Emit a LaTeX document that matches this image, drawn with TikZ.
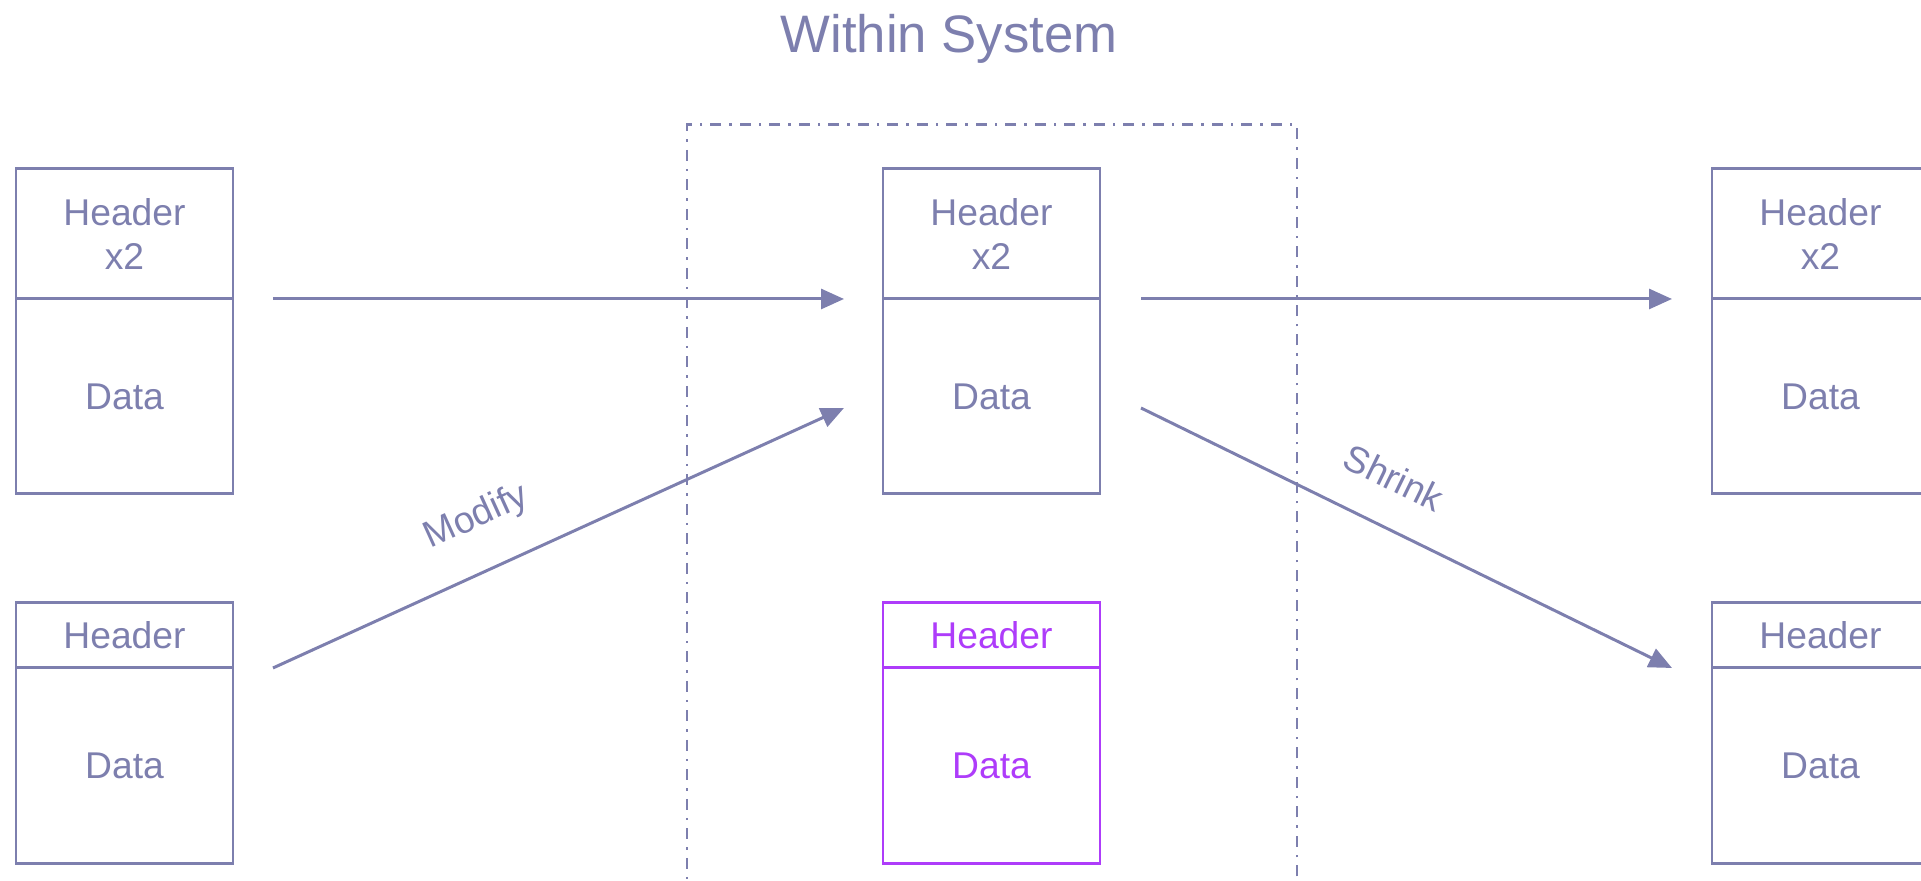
\documentclass[tikz,border=0pt]{standalone}
\usepackage{fontspec}
\setmainfont{Liberation Sans}
\usetikzlibrary{positioning,calc,arrows.meta}
\definecolor{sysblue}{RGB}{125,127,174}
\definecolor{syspurple}{RGB}{174,60,250}
\tikzset{
>={Triangle[length=2.3mm,width=2.0mm]},
  hdrbox/.style={
    rectangle,
    draw=sysblue, line width=0.85pt,
    text=sysblue,
    font=\fontsize{10.6}{12.3}\selectfont,
    align=center,
    inner sep=0pt, outer sep=0pt,
    minimum width=2.17cm,
    minimum height=1.30cm},
  smallhdr/.style={
    hdrbox,
    minimum height=0.65cm},
  databox/.style={
    hdrbox,
    minimum height=1.95cm},
  newbox/.style={draw=syspurple, text=syspurple},
  framebox/.style={
    rectangle,
    draw=sysblue, line width=0.85pt,
    dash pattern=on 0.11cm off 0.08cm on 0.025cm off 0.08cm,
    minimum width=6.10cm,
    minimum height=8.2cm},
  flow/.style={draw=sysblue, line width=0.85pt, ->},
  flowlabel/.style={sloped, above=0.22cm, text=sysblue,
    font=\fontsize{10.6}{12.3}\selectfont},
}
\begin{document}
\begin{tikzpicture}
\path[use as bounding box, clip] (0,0) rectangle (19.21,8.81);

\node[text=sysblue, font=\fontsize{15}{17}\selectfont, anchor=base] (title) at (9.49,8.28) {Within System};

\node[framebox] (system) at (9.92,3.46) {};

% before
\node[hdrbox] (hdrA) at (1.245,6.47) {Header\\x2};
\node[databox, below=0pt of hdrA] (dataA) {Data};
\node[smallhdr, below=1.09cm of dataA] (hdrD) {Header};
\node[databox, below=0pt of hdrD, minimum height=1.96cm] (dataD) {Data};

% within system
\node[hdrbox, right=6.50cm of hdrA] (hdrB) {Header\\x2};
\node[databox, below=0pt of hdrB] (dataB) {Data};
\node[smallhdr, newbox, below=1.09cm of dataB] (hdrE) {Header};
\node[databox, newbox, below=0pt of hdrE, minimum height=1.96cm] (dataE) {Data};

% after
\node[hdrbox, right=6.12cm of hdrB] (hdrC) {Header\\x2};
\node[databox, below=0pt of hdrC] (dataC) {Data};
\node[smallhdr, below=1.09cm of dataC] (hdrF) {Header};
\node[databox, below=0pt of hdrF, minimum height=1.96cm] (dataF) {Data};

\draw[flow, shorten <=0.40cm, shorten >=0.39cm] (hdrA.south east) -- (hdrB.south west);
\draw[flow, shorten <=0.41cm, shorten >=0.40cm] (hdrB.south east) -- (hdrC.south west);

\coordinate (modStart) at ($(hdrD.south east)+(0.40,0)$);
\coordinate (modEnd) at ($(dataB.west)+(-0.39,-0.115)$);
\draw[flow] (modStart) -- node[flowlabel, pos=0.395] (modlbl) {Modify} (modEnd);

\coordinate (shrStart) at ($(dataB.east)+(0.41,-0.115)$);
\coordinate (shrEnd) at ($(hdrF.south west)+(-0.40,0)$);
\draw[flow] (shrStart) -- node[flowlabel, pos=0.436] (shrlbl) {Shrink} (shrEnd);

\end{tikzpicture}
\end{document}
